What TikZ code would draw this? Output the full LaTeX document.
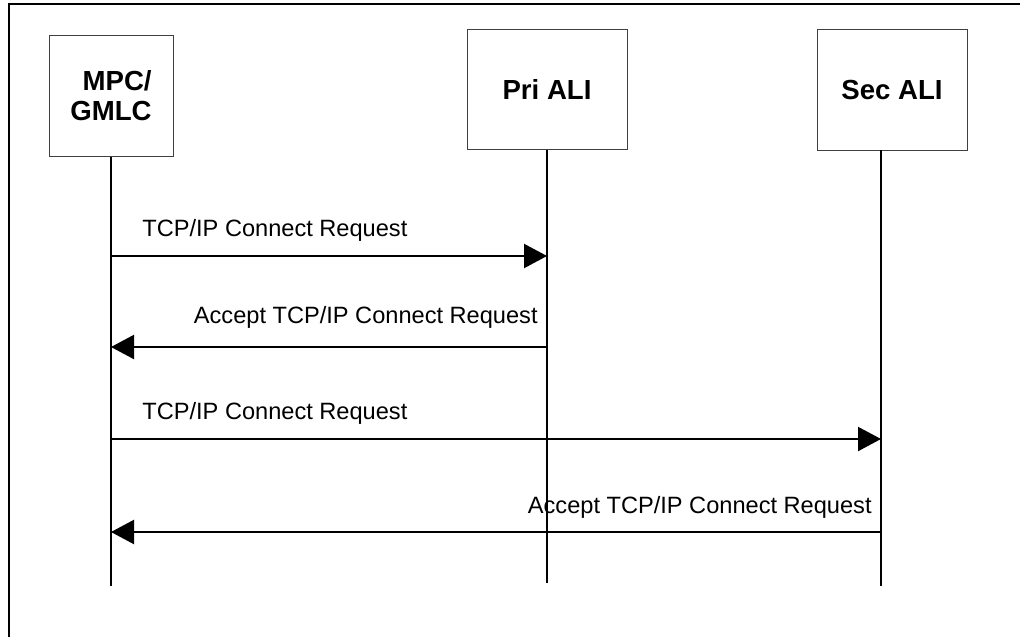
\documentclass[tikz,border=0pt]{standalone}
\usepackage{fontspec}
\setmainfont{Liberation Sans}
\usetikzlibrary{arrows.meta}

\begin{document}
\begin{tikzpicture}[
        x=0.5pt, y=-0.5pt,
        entity/.style={
            draw=black!75,
            line width=0.5pt,
            align=right,
            inner sep=0pt,
            font=\fontsize{13.8}{15}\selectfont\bfseries
        },
        life/.style={line width=1pt},
        msg/.style={-{Triangle[length=11.5pt,width=12pt]},line width=1.1pt},
        label/.style={font=\fontsize{11.8}{13}\selectfont, inner sep=0pt}
    ]
        \useasboundingbox (0,0) rectangle (1020,637);

        % frame, cut off at the right and bottom
        \draw[line width=1pt] (9,637) -- (9,4) -- (1020,4);

        \node[entity, minimum width=62pt, minimum height=60.5pt]
            (mpc) at (111,95.5) {MPC/\\GMLC};
        \node[entity, minimum width=80pt, minimum height=60pt]
            (pri) at (547,89) {Pri ALI};
        \node[entity, minimum width=75pt, minimum height=60.5pt]
            (sec) at (892,89.5) {Sec ALI};

        \coordinate (mpcEnd) at (111,586);
        \coordinate (priEnd) at (547,583);
        \coordinate (secTop) at (881,150);
        \coordinate (secEnd) at (881,586);

        \draw[life] (mpc.south) -- (mpcEnd);
        \draw[life] (pri.south) -- (priEnd);
        \draw[life] (secTop) -- (secEnd);

        \draw[msg] (mpcEnd |- 0,256) -- (priEnd |- 0,256);
        \node[label, anchor=base west] (m1) at (142,236)
            {TCP/IP Connect Request};

        \draw[msg] (priEnd |- 0,347) -- (mpcEnd |- 0,347);
        \node[label, anchor=base east] (m2) at (538,323)
            {Accept TCP/IP Connect Request};

        \draw[msg] (mpcEnd |- 0,439) -- (secEnd |- 0,439);
        \node[label, anchor=base west] (m3) at (142,419)
            {TCP/IP Connect Request};

        \draw[msg] (secEnd |- 0,532) -- (mpcEnd |- 0,532);
        \node[label, anchor=base east] (m4) at (872,513)
            {Accept TCP/IP Connect Request};

    \end{tikzpicture}
\end{document}
